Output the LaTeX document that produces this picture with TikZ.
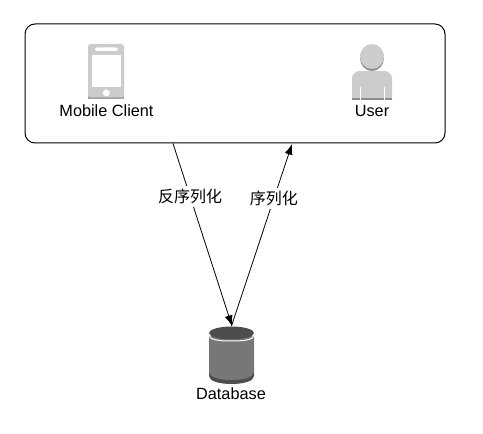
\documentclass[tikz,border=0pt]{standalone}
\usepackage{fontspec}
\setmainfont{Liberation Sans}
\newfontfamily\cjk{Noto Sans CJK SC}
\usetikzlibrary{arrows.meta}
\definecolor{iconlight}{HTML}{CCCCCC}
\definecolor{icondark}{HTML}{8C8C8C}
\definecolor{dbbody}{HTML}{777777}
\definecolor{dbdark}{HTML}{4D4D4D}
\tikzset{
  container/.style={draw=black,line width=0.75pt,rounded corners=7.5pt,fill=white,inner sep=0pt,minimum width=315pt,minimum height=89.25pt},
  caption/.style={font=\fontsize{12.2pt}{14pt}\selectfont,inner sep=0pt,text=black},
  edgelabel/.style={font=\cjk\fontsize{12pt}{14pt}\selectfont,fill=white,inner sep=2pt,text=black},
  flow/.style={draw=black,line width=0.6pt,-{Latex[length=8pt,width=6pt]}},
}
\begin{document}
\begin{tikzpicture}[x=0.75pt,y=-0.75pt]
\useasboundingbox (0,0) rectangle (483,434);
\node[container] (box) at (235,83.5) {};
% phone
\fill[icondark!80] (88,48) rectangle (124,99);
\fill[iconlight,rounded corners=2pt] (88,44) rectangle (124,97.5);
\fill[white] (92,55) rectangle (121,87);
\fill[white,rounded corners=1.5pt] (95,47.5) rectangle (118,51);
\fill[white] (106.3,93) circle (3.5);
\node[caption] (client) at (106.5,110.5) {Mobile Client};
% user
\fill[icondark] (352,96) rectangle (392,100);
\fill[iconlight] (352,98) -- (352,78) .. controls (352,74) and (356,71) .. (360,71) -- (384,71) .. controls (388,71) and (392,74) .. (392,78) -- (392,98) -- cycle;
\fill[icondark] (372,58) ellipse (12 and 13);
\fill[iconlight] (372,56.5) ellipse (12 and 12.5);
\fill[white] (359.7,87) rectangle (360.7,100);
\fill[white] (383.5,87) rectangle (384.5,100);
\node[caption] (user) at (372,110.5) {User};
% database
\fill[dbdark] (209,372) -- (209,376) .. controls (209,381) and (219,384) .. (231.5,384) .. controls (244,384) and (254,381) .. (254,376) -- (254,372) -- cycle;
\fill[dbbody] (209,336) -- (209,372) .. controls (209,377) and (219,380) .. (231.5,380) .. controls (244,380) and (254,377) .. (254,372) -- (254,336) -- cycle;
\draw[white,line width=0.75pt] (209,335) .. controls (209,340) and (219,341) .. (231.5,341) .. controls (244,341) and (254,340) .. (254,335);
\fill[dbdark] (231.5,333) ellipse (22.5 and 6.5);
\node[caption] (db) at (231,394) {Database};
% connectors
\coordinate (out) at (173,143.5);
\coordinate (in) at (292,144);
\coordinate (dbin) at (232,326);
\coordinate (dbout) at (231.5,326);
\draw[flow] (out) -- node[edgelabel,pos=0.29] (de) {反序列化} (dbin);
\draw[flow] (dbout) -- node[edgelabel,pos=0.7] (se) {序列化} (in);
\end{tikzpicture}
\end{document}
